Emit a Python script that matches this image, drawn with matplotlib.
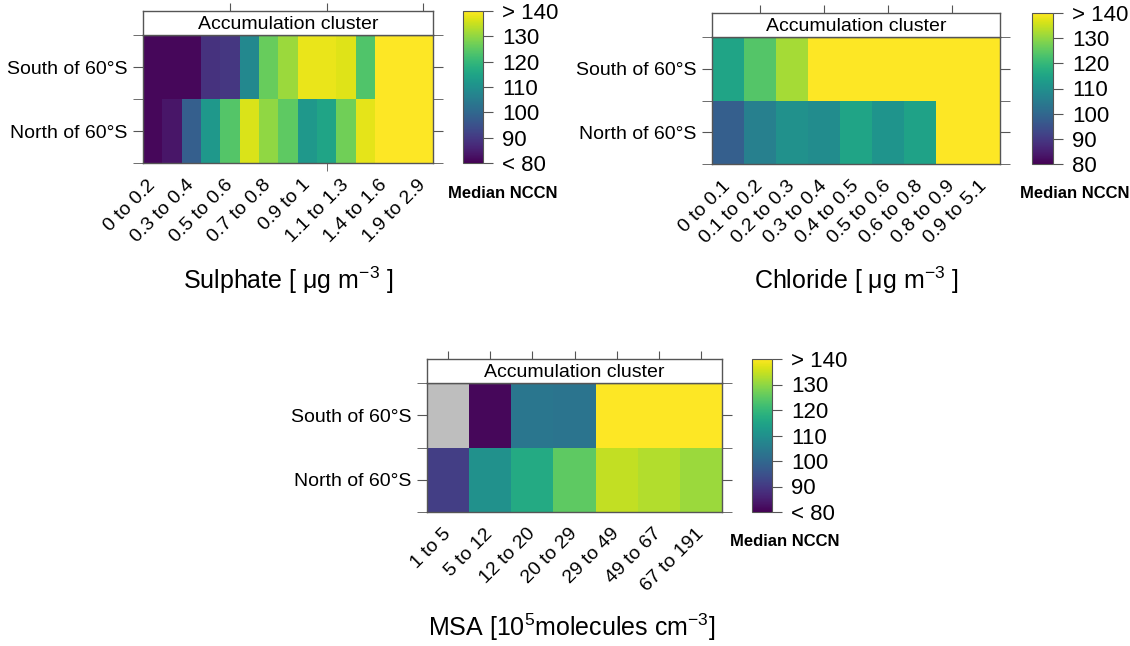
import numpy as np
import matplotlib
matplotlib.use('Agg')
import matplotlib.pyplot as plt
from matplotlib.colors import Normalize
from matplotlib.cm import ScalarMappable

plt.rcParams['font.family'] = ['Liberation Sans', 'DejaVu Sans']
plt.rcParams['mathtext.fontset'] = 'custom'
plt.rcParams['mathtext.rm'] = 'Liberation Sans'
plt.rcParams['mathtext.it'] = 'Liberation Sans:italic'
plt.rcParams['mathtext.bf'] = 'Liberation Sans:bold'

W, H = 1130, 646

rows = ['North of 60°S', 'South of 60°S']

# sulphate: 15 bins, labels only shown on every other bin
sulphate_labels = ['0 to 0.2', '0.3 to 0.4', '0.5 to 0.6', '0.7 to 0.8',
                   '0.9 to 1', '1.1 to 1.3', '1.4 to 1.6', '1.9 to 2.9']
sulphate_south = [81, 81, 81, 88.5, 89.5, 108, 126, 131, 138, 138, 137, 123.5, 150, 150, 150]
sulphate_north = [81, 83.5, 98, 112, 124, 136.5, 130, 125, 112, 115, 127, 137.5, 150, 150, 150]

chloride_labels = ['0 to 0.1', '0.1 to 0.2', '0.2 to 0.3', '0.3 to 0.4', '0.4 to 0.5',
                   '0.5 to 0.6', '0.6 to 0.8', '0.8 to 0.9', '0.9 to 5.1']
chloride_south = [115, 124, 132, 150, 150, 150, 150, 150, 150]
chloride_north = [98, 106, 110, 109, 115, 111, 114.5, 150, 150]

msa_labels = ['1 to 5', '5 to 12', '12 to 20', '20 to 29', '29 to 49', '49 to 67', '67 to 191']
msa_south = [np.nan, 81, 103.5, 103, 150, 150, 150]
msa_north = [91, 110, 116.5, 125, 134.5, 133, 131]

cbar_ticks = [80, 90, 100, 110, 120, 130, 140]

edge = '#555555'
cmap = plt.get_cmap('viridis').copy()
cmap.set_bad('#bebebe')
norm = Normalize(80, 140, clip=False)


def rect(x0, y0, x1, y1):
    return [x0 / W, 1 - y1 / H, (x1 - x0) / W, (y1 - y0) / H]


def panel(fig, box, south, north, labels, label_step, mark_pos, xlabel, xlabel_xy, med_xy, low_text):
    x0, y0, x1, y1, hy, cbx0, cbx1 = box
    n = len(south)

    ax = fig.add_axes(rect(x0, y0, x1, y1))
    data = np.ma.masked_invalid(np.array([north, south], dtype=float))
    ax.pcolormesh(np.arange(n + 1) + 0.5, [0.5, 1.5, 2.5], data, cmap=cmap, norm=norm)
    ax.set_xlim(0.5, n + 0.5)
    ax.set_ylim(0.5, 2.5)
    for s in ax.spines.values():
        s.set_color(edge)
        s.set_linewidth(1)

    pos = np.arange(1, n + 1, label_step)
    ax.set_xticks(pos)
    ax.set_xticklabels(labels, rotation=45, ha='right', va='center',
                       rotation_mode='anchor', fontsize=14)
    ax.tick_params(axis='x', which='major', length=0, pad=14)
    ax.set_xticks(mark_pos, minor=True)
    ax.tick_params(axis='x', which='minor', direction='out', length=6, color=edge, bottom=True)

    ax.set_yticks([1, 2])
    ax.set_yticklabels(rows, fontsize=14)
    ax.set_yticks([0.5, 1.5, 2.5], minor=True)
    ax.tick_params(axis='y', which='both', direction='out', length=7, color=edge,
                   left=True, right=True, pad=4)

    hd = fig.add_axes(rect(x0, hy, x1, y0))
    hd.set_xlim(0.5, n + 0.5)
    hd.set_ylim(0, 1)
    hd.set_yticks([])
    hd.set_xticks(mark_pos)
    hd.tick_params(axis='x', direction='out', length=6, color=edge,
                   bottom=False, top=True, labelbottom=False)
    for s in hd.spines.values():
        s.set_color(edge)
        s.set_linewidth(1)
    hd.text(0.5, 0.45, 'Accumulation cluster', transform=hd.transAxes,
            ha='center', va='center', fontsize=14)

    cax = fig.add_axes(rect(cbx0, hy, cbx1, y1))
    cb = fig.colorbar(ScalarMappable(norm=norm, cmap=cmap), cax=cax, ticks=cbar_ticks)
    cb.set_ticklabels([low_text, '90', '100', '110', '120', '130', '> 140'])
    cb.outline.set_edgecolor(edge)
    cax.tick_params(direction='out', length=7, color=edge, labelsize=16, pad=7)

    fig.text(xlabel_xy[0] / W, 1 - xlabel_xy[1] / H, xlabel, ha='center', va='center', fontsize=18)
    fig.text(med_xy[0] / W, 1 - med_xy[1] / H, 'Median NCCN', ha='center', va='center',
             fontsize=12, fontweight='bold')


fig = plt.figure(figsize=(W / 100, H / 100), dpi=100)

panel(fig, (143, 35, 433, 163, 11, 463, 483), sulphate_south, sulphate_north,
      sulphate_labels, 2, [5, 10, 15], 'Sulphate [ μg m$^{-3}$ ]', (288, 280), (503, 193), '< 80')
panel(fig, (712, 37, 1000, 164, 13, 1032, 1053), chloride_south, chloride_north,
      chloride_labels, 1, [2, 4, 6, 8], 'Chloride [ μg m$^{-3}$ ]', (856, 280), (1075, 193), '80')
panel(fig, (427, 383, 722, 512, 359, 752, 772), msa_south, msa_north,
      msa_labels, 1, [1, 2, 3, 4, 5, 6, 7], 'MSA [10$^5$molecules cm$^{-3}$]', (572, 627), (785, 541), '< 80')

fig.savefig('out.png', dpi=100)
